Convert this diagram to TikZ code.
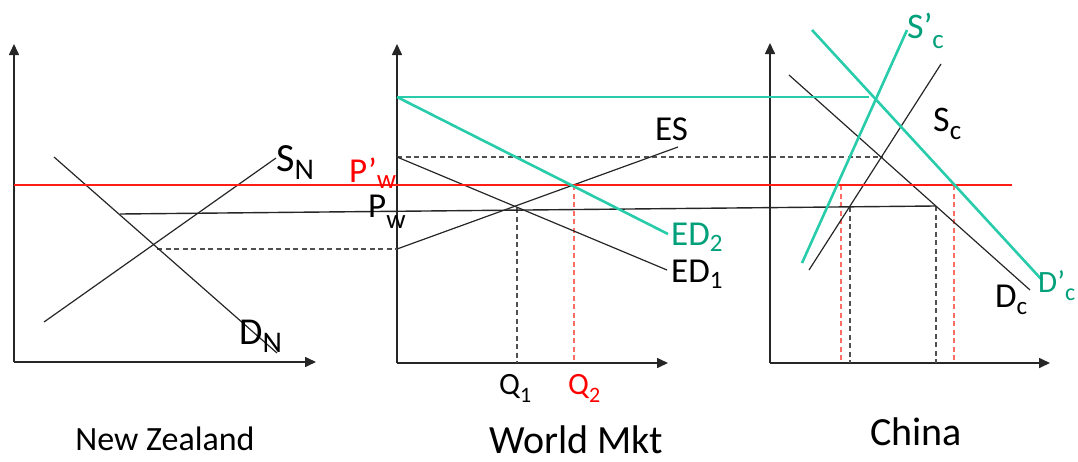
\documentclass[tikz,border=0pt]{standalone}
\usepackage{fontspec}
\setmainfont{Carlito}
\usetikzlibrary{arrows.meta}
\definecolor{tealline}{RGB}{40,204,170}
\definecolor{tealtext}{RGB}{0,160,122}
\definecolor{redline}{RGB}{255,30,20}
\definecolor{reddash}{RGB}{255,110,100}
\definecolor{graydash}{RGB}{80,80,80}
\newcommand\sz[1]{\fontsize{#1}{#1}\selectfont}
\newcommand\lowsub[3]{\raisebox{-#1}{\sz{#2}#3}}
\begin{document}
\begin{tikzpicture}[x=1pt,y=-1pt,
  axis/.style={line width=1.6pt,draw=black!85,-{Triangle[width=10pt,length=11pt]}},
  curve/.style={line width=1.2pt,draw=black!85},
  tcurve/.style={line width=2.6pt,draw=tealline},
  redl/.style={line width=1.3pt,draw=redline},
  gdash/.style={line width=1.1pt,draw=graydash,dash pattern=on 5pt off 3.5pt},
  rdash/.style={line width=1.1pt,draw=reddash,dash pattern=on 5pt off 3.5pt},
  lab/.style={inner sep=0pt,anchor=base west,font=\sz{35}},
  title/.style={inner sep=0pt,anchor=base,text depth=0pt}]
\useasboundingbox (0,0) rectangle (1078,461);
% axes
\coordinate (LO) at (14,362); \coordinate (LT) at (14,44); \coordinate (LR) at (316,362);
\coordinate (MO) at (397,363); \coordinate (MT) at (397,44); \coordinate (MR) at (668,363);
\coordinate (RO) at (770,363); \coordinate (RT) at (770,43); \coordinate (RR) at (1050,363);
\draw[axis] (LO) -- (LT); \draw[axis] (LO) -- (LR);
\draw[axis] (MO) -- (MT); \draw[axis] (MO) -- (MR);
\draw[axis] (RO) -- (RT); \draw[axis] (RO) -- (RR);
% price lines
\coordinate (redA) at (14,185); \coordinate (redB) at (1012,185);
\coordinate (pwA) at (120,214); \coordinate (pwB) at (935,206);
\coordinate (dA) at (157,249); \coordinate (dB) at (397,249);
\coordinate (topA) at (397,157); \coordinate (topB) at (882,157);
\coordinate (cyA) at (397,97); \coordinate (cyB) at (869,97);
% dashed verticals
\coordinate (q1t) at (517,208); \coordinate (q1b) at (517,363);
\coordinate (q2t) at (574,185); \coordinate (q2b) at (574,363);
\coordinate (r1t) at (841,185); \coordinate (r1b) at (841,363);
\coordinate (r2t) at (954,185); \coordinate (r2b) at (954,363);
\coordinate (k1t) at (850,207); \coordinate (k1b) at (850,363);
\coordinate (k2t) at (936,206); \coordinate (k2b) at (936,363);
\draw[gdash] (dA) -- (dB);
\draw[gdash] (topA) -- (topB);
\draw[gdash] (q1t) -- (q1b);
\draw[gdash] (k1t) -- (k1b);
\draw[gdash] (k2t) -- (k2b);
\draw[rdash] (q2t) -- (q2b);
\draw[rdash] (r1t) -- (r1b);
\draw[rdash] (r2t) -- (r2b);
% New Zealand
\coordinate (snA) at (44,322); \coordinate (snB) at (276,158);
\coordinate (dnA) at (54,157); \coordinate (dnB) at (277,353);
\draw[curve] (snA) -- (snB);
\draw[curve] (dnA) -- (dnB);
% World
\coordinate (esA) at (397,249); \coordinate (esB) at (678,147);
\coordinate (ed1A) at (397,157); \coordinate (ed1B) at (667,270);
\coordinate (ed2A) at (397,97); \coordinate (ed2B) at (668,234);
\draw[curve] (esA) -- (esB);
\draw[curve] (ed1A) -- (ed1B);
% China
\coordinate (scA) at (809,270); \coordinate (scB) at (941,64);
\coordinate (dcA) at (789,75); \coordinate (dcB) at (1030,290);
\coordinate (spA) at (802,263); \coordinate (spB) at (907,30);
\coordinate (dpA) at (812,30); \coordinate (dpB) at (1042,280);
\draw[curve] (scA) -- (scB);
\draw[curve] (dcA) -- (dcB);
\draw[curve,line width=1.4pt] (pwA) -- (pwB);
\draw[redl] (redA) -- (redB);
\draw[tcurve,line width=1.8pt] (cyA) -- (cyB);
\draw[tcurve] (ed2A) -- (ed2B);
\draw[tcurve] (spA) -- (spB);
\draw[tcurve] (dpA) -- (dpB);
% labels
\node[lab,font=\sz{40}] (SN) at (276,171) {S\lowsub{8pt}{30}{N}};
\node[lab,font=\sz{38}] (DN) at (239,344) {D\lowsub{8pt}{30}{N}};
\node[lab,text=red] (Ppw) at (349,182) {P’\lowsub{6pt}{27}{w}};
\node[lab] (Pw) at (368,217) {P\lowsub{11pt}{27}{w}};
\node[lab,font=\sz{31}] (Q1) at (499,394) {Q\lowsub{8pt}{22}{1}};
\node[lab,font=\sz{31},text=red] (Q2) at (568,394) {Q\lowsub{8pt}{22}{2}};
\node[lab] (ES) at (655,140) {ES};
\node[lab,text=tealtext] (ED2) at (671,245) {ED\lowsub{6pt}{25}{2}};
\node[lab] (ED1) at (671,282) {ED\lowsub{6pt}{25}{1}};
\node[lab,font=\sz{36},text=tealtext] (Spc) at (907,38) {S’\lowsub{10pt}{27}{c}};
\node[lab,font=\sz{36}] (Sc) at (933,131) {S\lowsub{8pt}{27}{c}};
\node[lab,font=\sz{31},text=tealtext] (Dpc) at (1038,292) {D’\lowsub{8pt}{24}{c}};
\node[lab] (Dc) at (995,307) {D\lowsub{7pt}{25}{c}};
\node[title,font=\sz{34}] (tNZ) at (165,450) {New Zealand};
\node[title,font=\sz{40}] (tW) at (576,453) {World Mkt};
\node[title,font=\sz{40}] (tC) at (916,445) {China};
\end{tikzpicture}
\end{document}
